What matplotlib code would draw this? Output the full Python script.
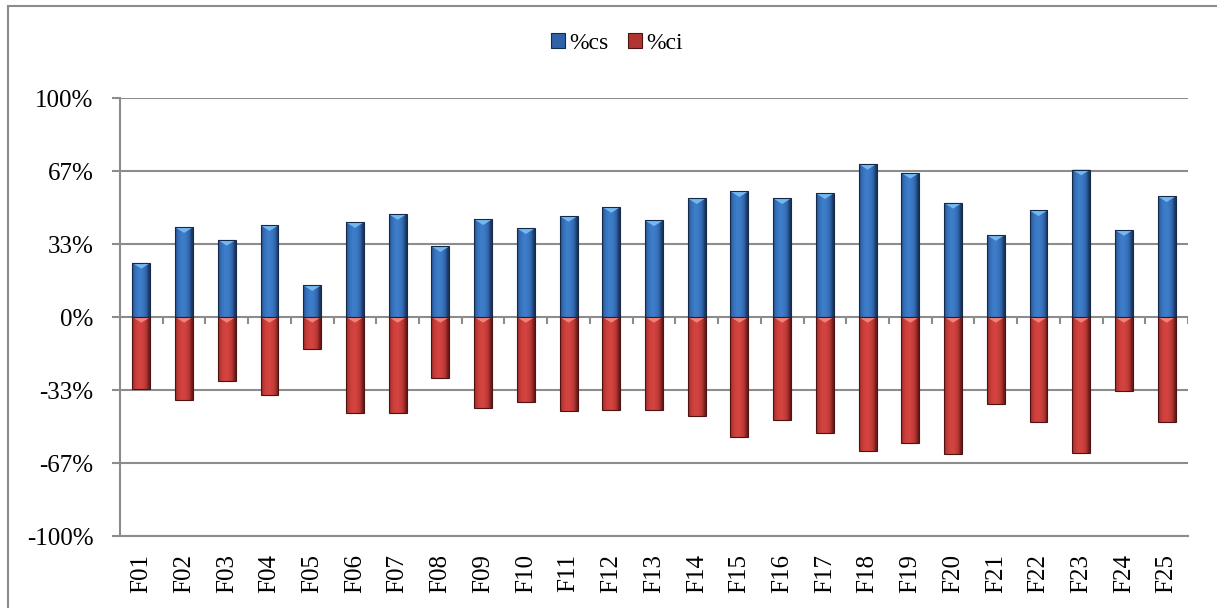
import matplotlib.pyplot as plt
import numpy as np
from matplotlib.colors import LinearSegmentedColormap
from matplotlib.patches import Polygon
from matplotlib.lines import Line2D

categories = ['F01', 'F02', 'F03', 'F04', 'F05', 'F06', 'F07', 'F08', 'F09', 'F10',
              'F11', 'F12', 'F13', 'F14', 'F15', 'F16', 'F17', 'F18', 'F19', 'F20',
              'F21', 'F22', 'F23', 'F24', 'F25']
pct_cs = [24.7, 41.0, 35.2, 41.9, 14.5, 43.3, 47.0, 32.3, 44.6, 40.5,
          46.1, 50.2, 44.1, 54.2, 57.4, 54.2, 56.5, 69.9, 65.8, 52.1,
          37.4, 48.7, 67.3, 39.7, 55.1]
pct_ci = [-33.0, -38.0, -29.4, -35.5, -14.7, -44.0, -44.0, -28.0, -41.4, -39.0,
          -43.1, -42.6, -42.6, -45.3, -54.9, -47.2, -52.8, -61.0, -57.7, -62.6,
          -39.9, -47.8, -62.0, -33.8, -47.8]
ytick_vals = [-100, -100 / 3, 0, 100 / 3, 200 / 3, 100]
ytick_vals = [-100, -200 / 3, -100 / 3, 0, 100 / 3, 200 / 3, 100]
ytick_labels = ['-100%', '-67%', '-33%', '0%', '33%', '67%', '100%']

plt.rcParams['font.family'] = ['Liberation Serif', 'DejaVu Serif']
grey = '#8c8c8c'

fig = plt.figure(figsize=(12.17, 6.08), dpi=100)
ax = fig.add_axes([0.0986, 0.1184, 0.8776, 0.7204])

x = np.arange(len(categories))
w = 0.42

blue_cmap = LinearSegmentedColormap.from_list('b', ['#1a3760', '#2f62a8', '#3d7dc9'])
red_cmap = LinearSegmentedColormap.from_list('r', ['#6e1b1a', '#b03532', '#d4433f'])
prof = np.linspace(0, 1, 60)
prof = 1 - np.abs(2 * prof - 0.9) ** 2
prof = np.clip(prof, 0, 1)[None, :]


def shade(bars, cmap, edge, bevel):
    for b in bars:
        x0, y0 = b.get_x(), b.get_y()
        bw, bh = b.get_width(), b.get_height()
        y1 = y0 + bh
        lo, hi = min(y0, y1), max(y0, y1)
        im = ax.imshow(prof, extent=[x0, x0 + bw, lo, hi], aspect='auto',
                       cmap=cmap, vmin=0, vmax=1, zorder=3, interpolation='bilinear')
        im.set_clip_path(b)
        ax.add_patch(Polygon([(x0, hi), (x0 + bw, hi), (x0 + bw / 2, hi - 2.6)],
                             closed=True, facecolor=bevel, edgecolor='none', zorder=4))
        ax.add_patch(plt.Rectangle((x0, lo), bw, hi - lo, fill=False,
                                   edgecolor=edge, lw=0.8, zorder=4))


bars_cs = ax.bar(x, pct_cs, width=w, color='#2f62a8', zorder=2, label='%cs')
bars_ci = ax.bar(x, pct_ci, width=w, color='#b03532', zorder=2, label='%ci')
shade(bars_cs, blue_cmap, '#15294a', '#74b8f0')
shade(bars_ci, red_cmap, '#4e1211', '#f3807a')

# small tick marks on the zero line between categories
ax.vlines(np.arange(len(categories) + 1) - 0.5, -3.2, 0, colors=grey, lw=1.5, zorder=1)

ax.set_xlim(-0.5, len(categories) - 0.5)
ax.set_ylim(-100, 100)
ax.set_yticks(ytick_vals)
ax.set_yticklabels(ytick_labels, fontsize=18)
ax.set_xticks(x)
ax.set_xticklabels(categories, rotation=90, fontsize=18)
ax.tick_params(axis='x', length=0, pad=13)
ax.tick_params(axis='y', length=6, width=1.5, color=grey, pad=13)
ax.yaxis.grid(True, color=grey, lw=1.5, zorder=1)
ax.set_axisbelow(True)
for s in ['top', 'right']:
    ax.spines[s].set_visible(False)
for s in ['left', 'bottom']:
    ax.spines[s].set_color(grey)
    ax.spines[s].set_linewidth(1.5)

handles = [plt.Rectangle((0, 0), 1, 1, facecolor='#2f62a8', edgecolor='#15294a', lw=0.8),
           plt.Rectangle((0, 0), 1, 1, facecolor='#b03532', edgecolor='#4e1211', lw=0.8)]
fig.legend(handles, ['%cs', '%ci'], loc='center', bbox_to_anchor=(0.507, 0.929),
           ncol=2, frameon=False, fontsize=17, handlelength=0.6, handleheight=0.6,
           handletextpad=0.2, columnspacing=0.8)

# outer chart border
fig.add_artist(Line2D([8 / 1217, 8 / 1217], [0, 1 - 6 / 608], color=grey, lw=1.5))
fig.add_artist(Line2D([8 / 1217, 1], [1 - 6 / 608, 1 - 6 / 608], color=grey, lw=1.5))

fig.savefig('out.png', dpi=100)
